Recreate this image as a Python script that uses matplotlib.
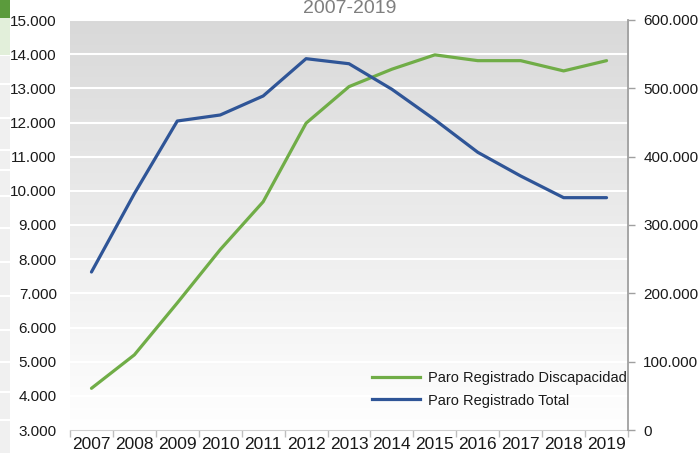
import matplotlib
matplotlib.use("Agg")
import matplotlib.pyplot as plt
import numpy as np
from matplotlib.ticker import FuncFormatter, FixedLocator
from matplotlib.lines import Line2D
from matplotlib.patches import Rectangle

plt.rcParams['font.family'] = ['Liberation Sans', 'DejaVu Sans']

years = ['2007', '2008', '2009', '2010', '2011', '2012', '2013',
         '2014', '2015', '2016', '2017', '2018', '2019']
discapacidad = [4220, 5200, 6720, 8280, 9680, 11980, 13050,
                13560, 13980, 13810, 13810, 13510, 13810]
total = [231200, 346000, 452200, 461000, 488800, 543400, 536000,
         498600, 454000, 406400, 371700, 340000, 340000]
title = '2007-2019'
label_disc = 'Paro Registrado Discapacidad'
label_total = 'Paro Registrado Total'

W, H = 699, 454
fig = plt.figure(figsize=(W / 100, H / 100), dpi=100)
ax = fig.add_axes([70 / W, 1 - 430 / H, (628 - 70) / W, (430 - 20) / H])
ax2 = ax.twinx()

def fmt(v, pos):
    return f"{v:,.0f}".replace(',', '.')

x = np.arange(len(years))
ax.set_xlim(-0.5, len(years) - 0.5)
ax.set_ylim(3000, 15000)
ax2.set_ylim(0, 600000)

# gradient background
grad = np.linspace(0, 1, 256).reshape(-1, 1)
top = np.array([0.85, 0.85, 0.85])
bot = np.array([1.0, 1.0, 1.0])
img = top[None, None, :] * (1 - grad[:, :, None]) + bot[None, None, :] * grad[:, :, None]
ax.imshow(img, extent=[-0.5, len(years) - 0.5, 3000, 15000], aspect='auto',
          origin='upper', zorder=0)

ax.set_yticks(np.arange(3000, 15001, 1000))
ax.yaxis.set_major_formatter(FuncFormatter(fmt))
ax.grid(axis='y', color='white', linewidth=1.5, zorder=1)
ax.set_axisbelow(True)
ax.tick_params(axis='y', length=0, pad=9.5, labelsize=11, labelcolor='#1a1a1a')

ax.set_xticks(x)
ax.set_xticklabels(years)
ax.xaxis.set_minor_locator(FixedLocator(np.arange(-0.5, len(years), 1)))
ax.tick_params(axis='x', which='major', length=0, pad=5, labelsize=12.5, labelcolor='#1a1a1a')
ax.tick_params(axis='x', which='minor', length=5, color='#bfbfbf', width=1)

ax2.set_yticks(np.arange(0, 600001, 100000))
ax2.yaxis.set_major_formatter(FuncFormatter(fmt))
ax2.tick_params(axis='y', length=5, color='#a0a0a0', width=1, pad=6,
                labelsize=11, labelcolor='#1a1a1a')

for a in (ax, ax2):
    a.spines['top'].set_visible(False)
    a.spines['left'].set_visible(False)
    a.spines['right'].set_visible(False)
    a.spines['bottom'].set_visible(False)
ax.spines['bottom'].set_visible(True)
ax.spines['bottom'].set_color('#d0d0d0')
ax2.spines['right'].set_visible(True)
ax2.spines['right'].set_color('#a0a0a0')
ax2.spines['right'].set_linewidth(1.3)

green = '#70ad47'
blue = '#2f5597'
ax.plot(x, discapacidad, color=green, linewidth=2.3, solid_capstyle='round', zorder=3)
ax2.plot(x, total, color=blue, linewidth=2.3, solid_capstyle='round', zorder=3)

handles = [Line2D([], [], color=green, linewidth=2.3),
           Line2D([], [], color=blue, linewidth=2.3)]
ax2.legend(handles, [label_disc, label_total], loc='center left',
           bbox_to_anchor=(372 / W, 1 - 389.5 / H), bbox_transform=fig.transFigure,
           frameon=False, fontsize=10.5, borderpad=0, borderaxespad=0,
           handlelength=3.3, handletextpad=0.55, labelspacing=0.55,
           labelcolor='#1a1a1a')

fig.text(350 / W, 1 - 13 / H, title, ha='center', va='baseline',
         fontsize=14, color='#7f7f7f')

# left-edge cropped neighbour artefacts
fig.patches.append(Rectangle((0, 1 - 18 / H), 10 / W, 18 / H, transform=fig.transFigure,
                             facecolor='#5b9b3c', edgecolor='none'))
fig.patches.append(Rectangle((0, 1 - 55 / H), 10 / W, 37 / H, transform=fig.transFigure,
                             facecolor='#e2efda', edgecolor='none'))
seps = [55, 84, 118, 150, 170, 196, 228, 262, 296, 330, 362, 392, 420, 454]
for y0, y1 in zip(seps[:-1], seps[1:]):
    fig.patches.append(Rectangle((0, 1 - (y1 - 1) / H), 10 / W, (y1 - y0 - 2) / H,
                                 transform=fig.transFigure,
                                 facecolor='#f0f0f0', edgecolor='none'))

fig.savefig('out.png', dpi=100)
